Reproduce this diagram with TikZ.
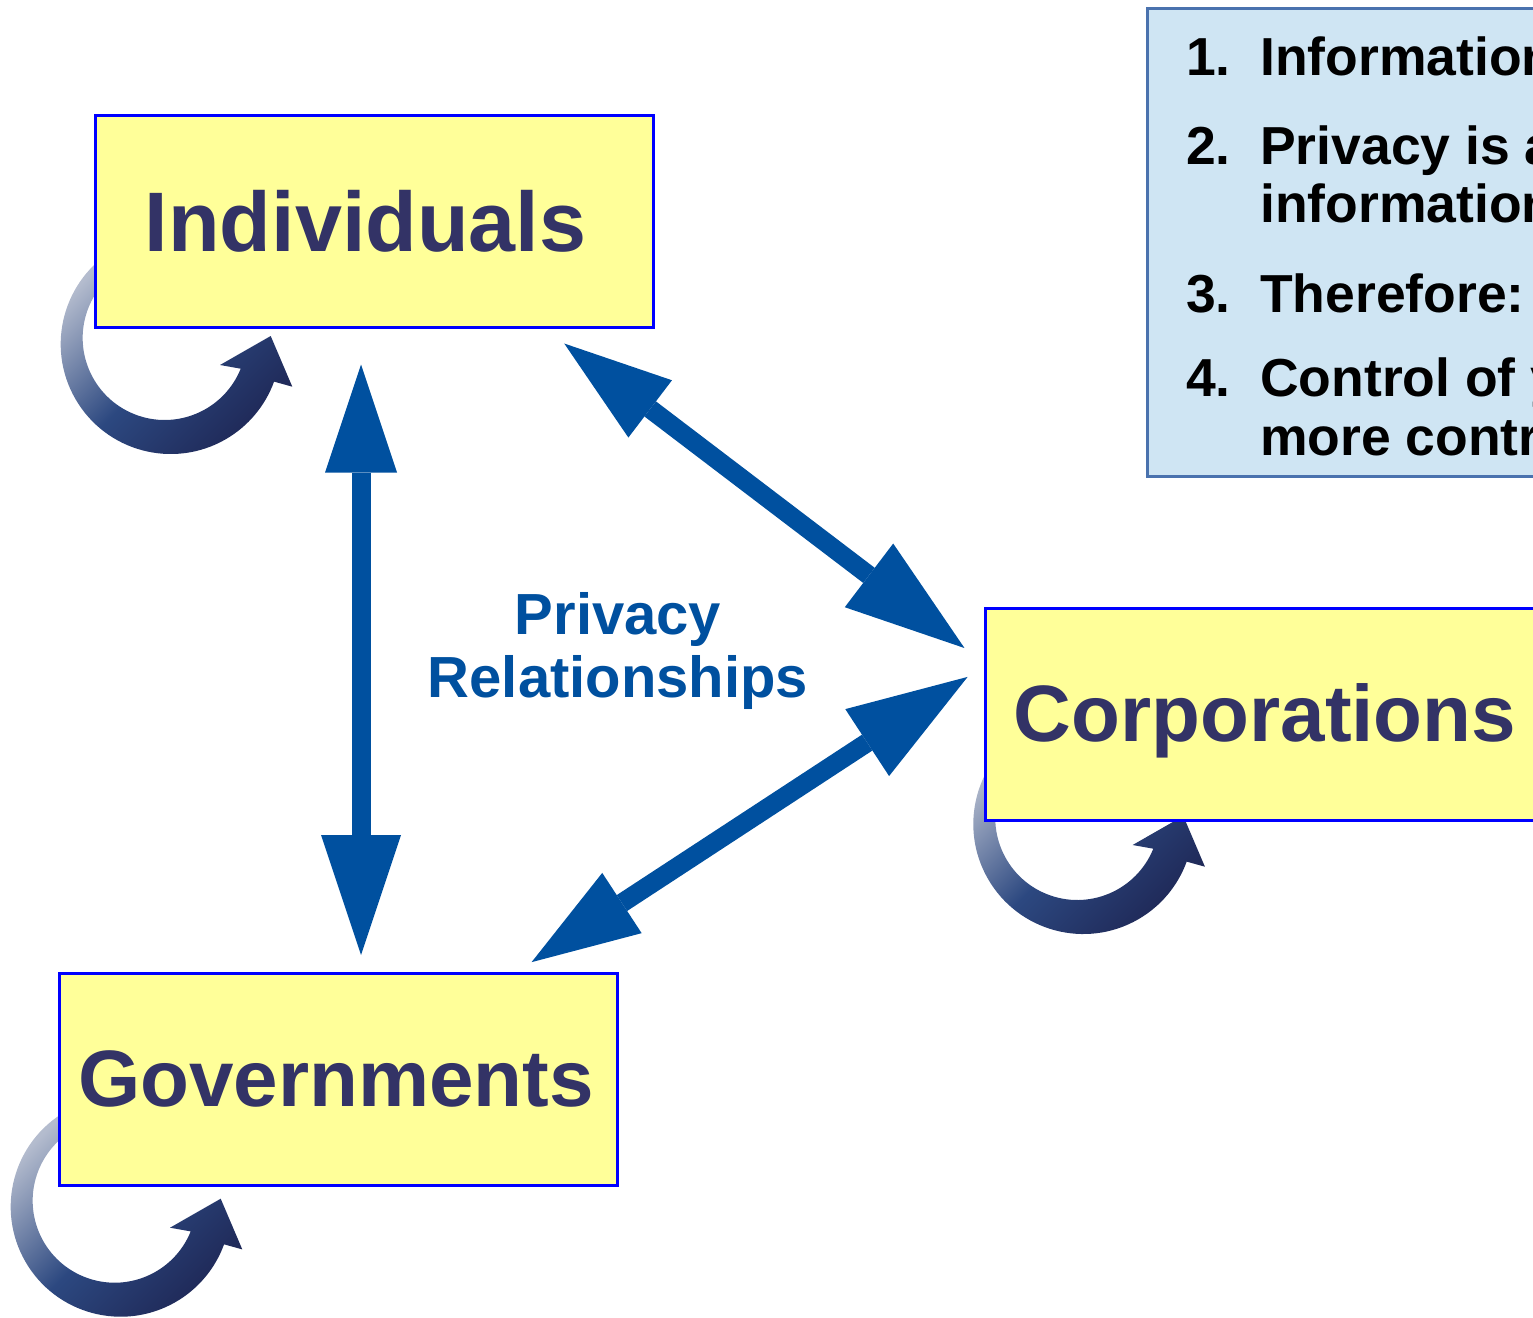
\documentclass[tikz,border=0pt]{standalone}
\usepackage{fontspec}
\setmainfont{Liberation Sans}
\usetikzlibrary{arrows.meta}

\definecolor{boxfill}{HTML}{FFFF99}
\definecolor{boxline}{HTML}{0000FF}
\definecolor{boxtext}{HTML}{333366}
\definecolor{relblue}{HTML}{00509F}
\definecolor{notefill}{HTML}{CFE5F3}
\definecolor{noteline}{HTML}{4A72AE}
\definecolor{loophi}{HTML}{B4BCCE}
\definecolor{loopmid}{HTML}{2C4880}
\definecolor{looplo}{HTML}{1E2654}

\tikzset{
  entity/.style={draw=boxline, fill=boxfill, line width=3pt, inner sep=0pt,
    minimum width=558pt, minimum height=212pt},
  entitytext/.style={text=boxtext, inner sep=0pt, anchor=base,
    font=\bfseries\fontsize{#1}{#1}\selectfont},
  notebox/.style={draw=noteline, fill=notefill, line width=3pt, inner sep=0pt,
    minimum width=420pt, minimum height=468pt},
  notetext/.style={inner sep=0pt, anchor=base west,
    font=\bfseries\fontsize{53.5}{53.5}\selectfont},
  reltext/.style={text=relblue, inner sep=0pt, align=center,
    font=\bfseries\fontsize{58}{62.7}\selectfont},
  relarrow/.style={draw=relblue, line width=19pt,
    {Triangle[length=108pt,width=72pt,line width=0pt]}-{Triangle[length=120pt,width=80pt,line width=0pt]}},
  selfloop/.style={top color=loophi, bottom color=looplo, middle color=loopmid,
    shading angle=45}
}

\begin{document}
\begin{tikzpicture}[x=1pt, y=-1pt]
      \useasboundingbox (0,0) rectangle (1533,1317);
      \foreach \cx/\cy in {170.7/344, 120.7/1206.7, 1083.3/824}{
        \begin{scope}[shift={(\cx,\cy)}]
          \shade[selfloop] (240:110) arc[start angle=240, end angle=20, radius=110]
            -- (121.6,42.7) -- (100,-8) -- (49.3,21) -- (70,24.7)
            arc[start angle=22, end angle=240, radius=82] -- cycle;
        \end{scope}
      }
      \node[entity] (ind) at (374,221) {};
      \node[entitytext=84.5] (indname) at ([xshift=-8.5pt,yshift=-30pt]ind.center) {Individuals};
      \node[entity, minimum width=563pt] (corp) at (1266.5,714.5) {};
      \node[entitytext=80] (corpname) at ([xshift=-1.5pt,yshift=-27pt]corp.center) {Corporations};
      \node[entity] (gov) at (338,1079.5) {};
      \node[entitytext=80] (govname) at ([xshift=-2pt,yshift=-26.9pt]gov.center) {Governments};
      \node[reltext] (privacy) at (618,651) {Privacy\\Relationships};
      \begin{scope}
        \draw[relarrow, shorten <=36pt, shorten >=17pt] ([xshift=-13pt]ind.south) -- ([xshift=23pt]gov.north);
        \draw[relarrow, shorten <=24.8pt, shorten >=23.9pt] ([xshift=-110pt]ind.south east) -- ([yshift=52pt]corp.west);
        \draw[relarrow, shorten <=18pt, shorten >=19pt] ([xshift=-102pt]gov.north east) -- ([yshift=48pt]corp.west);
      \end{scope}
      \node[notebox] (notes) at (1357,242) {};
      \node[notetext] (n1) at (1186,75) {1.};
      \node[notetext] (t1) at (1260,75) {Information};
      \node[notetext] (n2) at (1186,164) {2.};
      \node[notetext] (t2) at (1260,164) {Privacy is a};
      \node[notetext] (t2b) at (1260,222.7) {information};
      \node[notetext] (n3) at (1186,312.3) {3.};
      \node[notetext] (t3) at (1260,312.3) {Therefore:};
      \node[notetext] (n4) at (1186,396.7) {4.};
      \node[notetext] (t4) at (1260,396.7) {Control of y};
      \node[notetext] (t4b) at (1260,455) {more contr};
    \end{tikzpicture}
\end{document}
